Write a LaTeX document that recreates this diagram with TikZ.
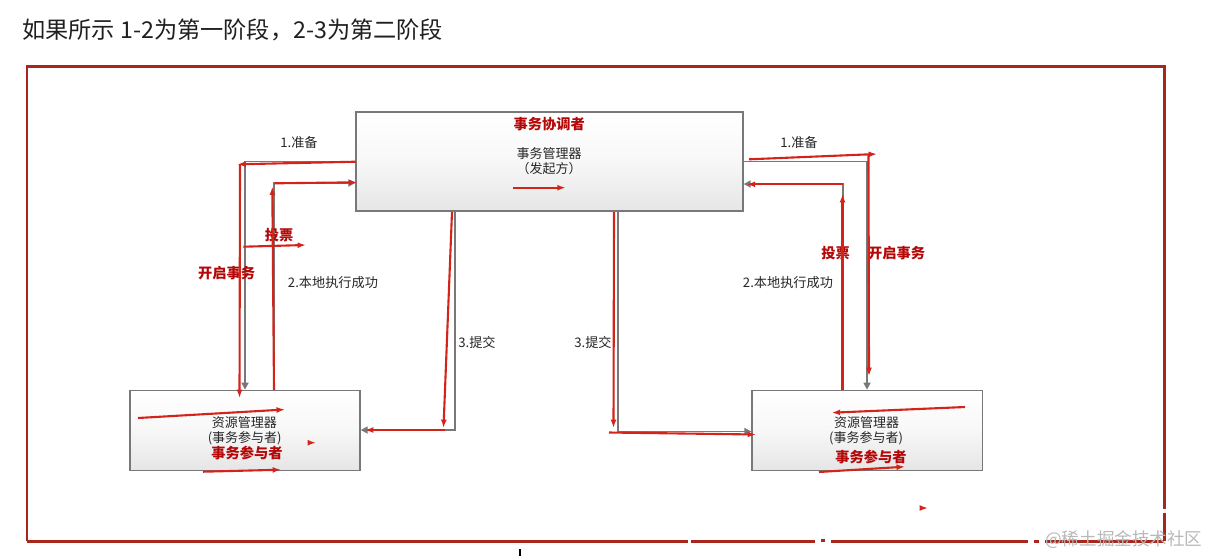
\documentclass[tikz,border=0pt]{standalone}
\usepackage{fontspec}
\setmainfont{Noto Sans CJK SC}
\usetikzlibrary{arrows.meta}
\definecolor{bord}{RGB}{168,38,28}
\definecolor{ann}{RGB}{212,36,26}
\definecolor{anntext}{RGB}{180,8,8}
\definecolor{conn}{RGB}{120,120,120}
\definecolor{boxline}{RGB}{120,120,120}
\tikzset{
  box/.style={draw=boxline, line width=0.8pt, top color=white, bottom color=black!10, middle color=black!3, inner sep=0pt},
  lbl/.style={font=\fontsize{7.5}{8}\selectfont, text=black!85, inner sep=0pt},
  boxtxt/.style={font=\fontsize{7.4}{8}\selectfont, text=black!85, inner sep=0pt},
  rlbl/.style={font=\fontsize{8.1}{9}\selectfont\bfseries, text=anntext, inner sep=0pt},
  garrow/.style={draw=conn, line width=0.9pt, -{Triangle[length=4pt,width=4pt]}},
  gline/.style={draw=conn, line width=0.9pt},
  rarrow/.style={draw=ann, line width=1.2pt, -{Latex[length=4.8pt,width=3.4pt]}},
  frameline/.style={draw=bord, line width=1.7pt},
}
\begin{document}
\begin{tikzpicture}[x=0.02cm,y=-0.02cm]
\useasboundingbox (0,0) rectangle (1210,556);

% title
\node[anchor=west, font=\fontsize{13.2}{15}\selectfont, text=black!88, inner sep=0pt] (title) at (22,30) {如果所示 1-2为第一阶段，2-3为第二阶段};

% red frame
\draw[frameline] (27,541) -- (27,66) -- (1164,66) -- (1164,509);
\draw[frameline] (1164,513) -- (1164,541);
\draw[frameline] (27,541) -- (688,541);
\draw[frameline] (691,541) -- (815,541);
\draw[frameline] (821,540) -- (825,540);
\draw[frameline] (831,541) -- (1028,541);
\draw[frameline] (1034,541) -- (1039,541);
\draw[frameline] (1045,541) -- (1164,541);
\draw[black, line width=0.8pt] (520,549) -- (520,556);

% boxes
\node[box, minimum width=7.74cm, minimum height=1.98cm] (coord) at (549.5,161.6) {};
\node[box, minimum width=4.6cm, minimum height=1.6cm] (lp) at (245,430.3) {};
\node[box, minimum width=4.606cm, minimum height=1.6cm] (rp) at (867.2,430.3) {};

% box texts
\node[rlbl] (coordrole) at (549.3,124) {事务协调者};
\node[boxtxt] (coordname) at (549,153.3) {事务管理器};
\node[boxtxt] (coordsub) at (549,169) {（发起方）};
\node[boxtxt] (lpname) at (244.3,422.7) {资源管理器};
\node[boxtxt] (lpsub) at (244.7,438.3) {(事务参与者)};
\node[rlbl] (lprole) at (247,453.3) {事务参与者};
\node[boxtxt] (rpname) at (866.7,422.7) {资源管理器};
\node[boxtxt] (rpsub) at (866,438.3) {(事务参与者)};
\node[rlbl] (rprole) at (871,456.7) {事务参与者};

% gray connectors
\coordinate (l1) at (245,161.5);
\coordinate (l2) at (274,183);
\coordinate (c3l) at (455,430);
\coordinate (c3r) at (618,431.5);
\coordinate (r1) at (867,161.5);
\coordinate (r2) at (843,184);
\draw[garrow] (coord.west|-l1) -- (l1) -- (l1|-lp.north);
\draw[garrow] (l2|-lp.north) -- (l2) -- (l2-|coord.west);
\draw[garrow] (c3l|-coord.south) -- (c3l) -- (c3l-|lp.east);
\draw[garrow] (c3r|-coord.south) -- (c3r) -- (c3r-|rp.west);
\draw[garrow] (r1-|coord.east) -- (r1) -- (r1|-rp.north);
\draw[garrow] (r2|-rp.north) -- (r2) -- (r2-|coord.east);

% gray labels
\node[lbl] (t1l) at (299,142.7) {1.准备};
\node[lbl] (t2l) at (333,282.7) {2.本地执行成功};
\node[lbl] (t3l) at (477,342.7) {3.提交};
\node[lbl] (t3r) at (593,342.7) {3.提交};
\node[lbl] (t1r) at (799,142.7) {1.准备};
\node[lbl] (t2r) at (788,282.7) {2.本地执行成功};

% red annotation labels
\node[rlbl] (votel) at (279,235) {投票};
\node[rlbl] (openl) at (226.7,273.3) {开启事务};
\node[rlbl] (voter) at (835.7,252.7) {投票};
\node[rlbl] (openr) at (896.7,252.7) {开启事务};

% red annotation strokes
\draw[rarrow] (355.7,161.7) -- (237.3,164.3);
\draw[rarrow] (240,164) -- (239.5,398);
\draw[rarrow] (274,390) -- (272.3,186.5);
\draw[rarrow] (274.5,183.3) -- (357.3,182.3);
\draw[rarrow] (243.3,246.7) -- (306,245);
\draw[rarrow] (452,212) -- (443.5,428);
\draw[rarrow] (445,430) -- (365,430);
\draw[rarrow] (614,212) -- (613.5,428);
\draw[rarrow] (609,432.5) -- (756,434.5);
\draw[rarrow] (749,159.3) -- (877,154);
\draw[rarrow] (868.5,155) -- (869,376);
\draw[rarrow] (842.5,390) -- (842.5,194);
\draw[rarrow] (843.3,184.3) -- (746.7,184.3);
\draw[rarrow] (513.3,187.7) -- (565.7,187.7);
\draw[rarrow] (138,418) -- (285,409.5);
\draw[rarrow] (203,471.7) -- (281,469.7);
\draw[rarrow] (309,442.7) -- (316,442.7);
\draw[rarrow] (965,407) -- (831.7,412.7);
\draw[rarrow] (819,472) -- (905,466.7);
\draw[rarrow] (921,508) -- (928,508);

% watermark
\node[anchor=west, font=\fontsize{10}{12}\selectfont, text=black!28, inner sep=0pt] (wm) at (1045,540) {@稀土掘金技术社区};
\end{tikzpicture}
\end{document}
